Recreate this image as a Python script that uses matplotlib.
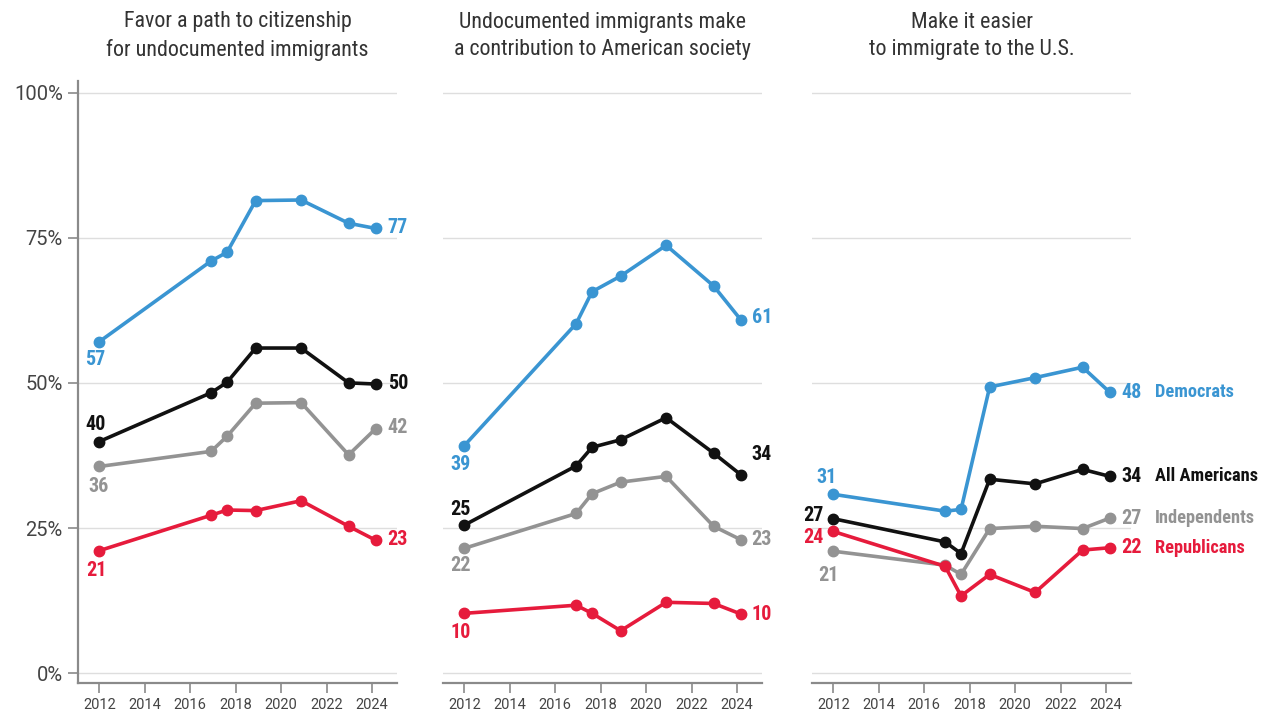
import matplotlib
matplotlib.use("Agg")
import matplotlib.pyplot as plt

# Survey years (fractional, as placed on the chart)
years = [2012.0, 2016.92, 2017.62, 2018.88, 2020.88, 2022.97, 2024.16]

titles = [
    "Favor a path to citizenship\nfor undocumented immigrants",
    "Undocumented immigrants make\na contribution to American society",
    "Make it easier\nto immigrate to the U.S.",
]

# Panel 1: path to citizenship
dem_1 = [57.1, 71.0, 72.5, 81.4, 81.5, 77.5, 76.6]
all_1 = [39.9, 48.3, 50.1, 56.0, 56.0, 50.0, 49.8]
ind_1 = [35.6, 38.2, 40.8, 46.5, 46.6, 37.6, 42.1]
rep_1 = [21.1, 27.2, 28.1, 28.0, 29.7, 25.3, 22.9]

# Panel 2: contribution to society
dem_2 = [39.2, 60.2, 65.7, 68.4, 73.7, 66.7, 60.9]
all_2 = [25.5, 35.7, 38.9, 40.2, 44.0, 37.9, 34.2]
ind_2 = [21.5, 27.5, 30.9, 32.9, 33.9, 25.3, 23.0]
rep_2 = [10.3, 11.7, 10.3, 7.3, 12.2, 12.0, 10.2]

# Panel 3: make it easier to immigrate
dem_3 = [30.8, 27.9, 28.2, 49.3, 50.9, 52.7, 48.4]
all_3 = [26.6, 22.6, 20.6, 33.4, 32.6, 35.1, 33.9]
ind_3 = [21.0, 18.6, 17.0, 24.9, 25.3, 24.9, 26.7]
rep_3 = [24.4, 18.4, 13.3, 17.0, 13.9, 21.2, 21.6]

start_labels = [["57", "40", "36", "21"], ["39", "25", "22", "10"], ["31", "27", "21", "24"]]
end_labels = [["77", "50", "42", "23"], ["61", "34", "23", "10"], ["48", "34", "27", "22"]]
group_names = ["Democrats", "All Americans", "Independents", "Republicans"]

BLUE = "#3a95d2"
BLACK = "#111111"
GRAY = "#939393"
RED = "#e61b3c"

NARROW = ["Roboto Condensed", "Roboto", "DejaVu Sans"]

fig = plt.figure(figsize=(12.67, 7.13), dpi=100)
lefts = [78, 443, 812]
panels = [
    (dem_1, all_1, ind_1, rep_1),
    (dem_2, all_2, ind_2, rep_2),
    (dem_3, all_3, ind_3, rep_3),
]

# per-panel start-label offsets (pixels) in order dem, all, ind, rep
start_offsets = [
    [(-4, -18, "center"), (-4, 17, "center"), (-1, -20, "center"), (-3, -20, "center")],
    [(-4, -19, "center"), (-4, 16, "center"), (-4, -17, "center"), (-4, -19, "center")],
    [(-7, 17, "center"), (-10, 3, "right"), (-5, -24, "center"), (-10, -6, "right")],
]
end_offsets = [
    [(12, 1), (12, 1), (12, 1), (12, 1)],
    [(11, 2), (11, 20), (11, 0), (11, -1)],
    [(12, 0), (12, 0), (12, 0), (12, 0)],
]

for i, (dem, allv, ind, rep) in enumerate(panels):
    ax = fig.add_axes([lefts[i] / 1267, 1 - 683 / 713, 319 / 1267, 602 / 713])
    ax.set_xlim(2011.06, 2025.1)
    ax.set_ylim(-1.7, 102)
    for g in [0, 25, 50, 75, 100]:
        ax.axhline(g, color="#dedede", lw=1, zorder=0)

    series = [(dem, BLUE, 4), (allv, BLACK, 3), (ind, GRAY, 2), (rep, RED, 5)]
    for vals, col, z in series:
        ax.plot(years, vals, color=col, lw=2.6, marker="o", ms=7.5, zorder=z,
                solid_capstyle="round")

    for k, (vals, col, z) in enumerate(series):
        dx, dy, ha = start_offsets[i][k]
        ax.annotate(start_labels[i][k], (years[0], vals[0]), xytext=(dx, dy),
                    textcoords="offset pixels", ha=ha, va="center", color=col,
                    fontsize=14.5, fontweight="bold", family=NARROW)
        ex, ey = end_offsets[i][k]
        ax.annotate(end_labels[i][k], (years[-1], vals[-1]), xytext=(ex, ey),
                    textcoords="offset pixels", ha="left", va="center", color=col,
                    fontsize=14.5, fontweight="bold", family=NARROW,
                    annotation_clip=False)
        if i == 2:
            ax.annotate(group_names[k], (years[-1], vals[-1]), xytext=(45, ey),
                        textcoords="offset pixels", ha="left", va="center", color=col,
                        fontsize=13.2, fontweight="bold", family=NARROW,
                        annotation_clip=False)

    for s in ["top", "right"]:
        ax.spines[s].set_visible(False)
    ax.spines["bottom"].set_color("#8a8a8a")
    ax.spines["bottom"].set_linewidth(1.6)
    ax.set_xticks(range(2012, 2025, 2))
    ax.tick_params(axis="x", length=7, width=1.2, color="#8a8a8a", labelsize=10.5,
                   labelcolor="#444444", pad=4)
    for lab in ax.get_xticklabels():
        lab.set_family("Roboto")
    if i == 0:
        ax.spines["left"].set_color("#8a8a8a")
        ax.spines["left"].set_linewidth(1.6)
        ax.set_yticks([0, 25, 50, 75, 100])
        ax.set_yticklabels(["0%", "25%", "50%", "75%", "100%"])
        ax.tick_params(axis="y", length=7, width=1.2, color="#8a8a8a", labelsize=14.5,
                       labelcolor="#444444", pad=4)
        for lab in ax.get_yticklabels():
            lab.set_family("Roboto")
    else:
        ax.spines["left"].set_visible(False)
        ax.set_yticks([])

    fig.text((lefts[i] + 159.5) / 1267, 1 - 36 / 713, titles[i], ha="center",
             va="center", fontsize=15.8, color="#333333", family=NARROW,
             linespacing=1.4)

fig.savefig("out.png", dpi=100)
